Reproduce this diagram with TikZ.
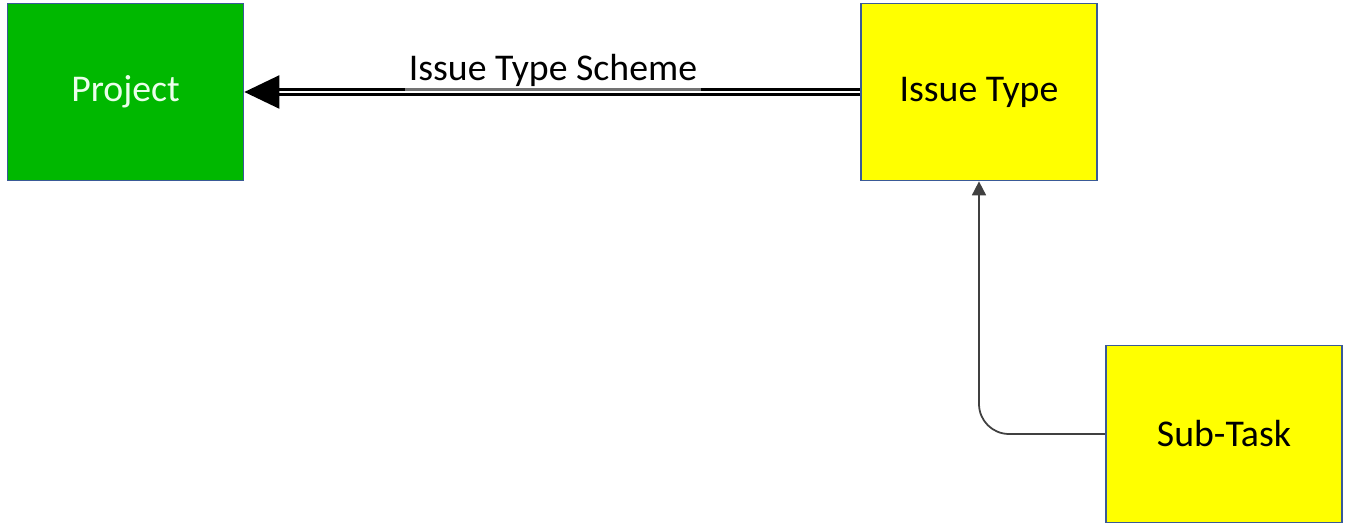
\documentclass[tikz,border=0pt]{standalone}
\usepackage{fontspec}
\setmainfont{Carlito}
\usepackage{xcolor}
\usetikzlibrary{arrows.meta}

\definecolor{boxgreen}{HTML}{00B800}
\definecolor{boxyellow}{HTML}{FFFF00}
\definecolor{boxline}{HTML}{3A5A96}
\definecolor{linkgray}{HTML}{404040}

\begin{document}
\begin{tikzpicture}[x=0.02cm, y=-0.02cm,
  entitybox/.style={rectangle, draw=boxline, line width=1pt, minimum width=4.72cm, minimum height=3.54cm, font=\fontsize{21.5}{25}\selectfont},
  schemelink/.style={draw=black, line width=1.3pt, double=white, double distance=1.5pt, -{Triangle[length=0.7cm, width=0.66cm]}},
  subtasklink/.style={draw=linkgray, line width=1pt, rounded corners=0.6cm, -{Triangle[length=0.28cm, width=0.28cm]}}]

\useasboundingbox (0,0) rectangle (1350,526);

\node[entitybox, fill=boxgreen, text=green!8!white] at (125.5, 92) (project) {Project};
\node[entitybox, fill=boxyellow] at (979, 92) (issuetype) {Issue Type};
\node[entitybox, fill=boxyellow] at (1224, 434) (subtask) {Sub-Task};

\draw[schemelink] (issuetype.west) -- (project.east);
\node[fill=white, fill opacity=0.45, text opacity=1, inner xsep=2pt, inner ysep=4pt, font=\fontsize{21.5}{25}\selectfont] at (553, 70) (schemelabel) {Issue Type Scheme};

\draw[subtasklink] (subtask.west) -| (issuetype.south);

\end{tikzpicture}
\end{document}
